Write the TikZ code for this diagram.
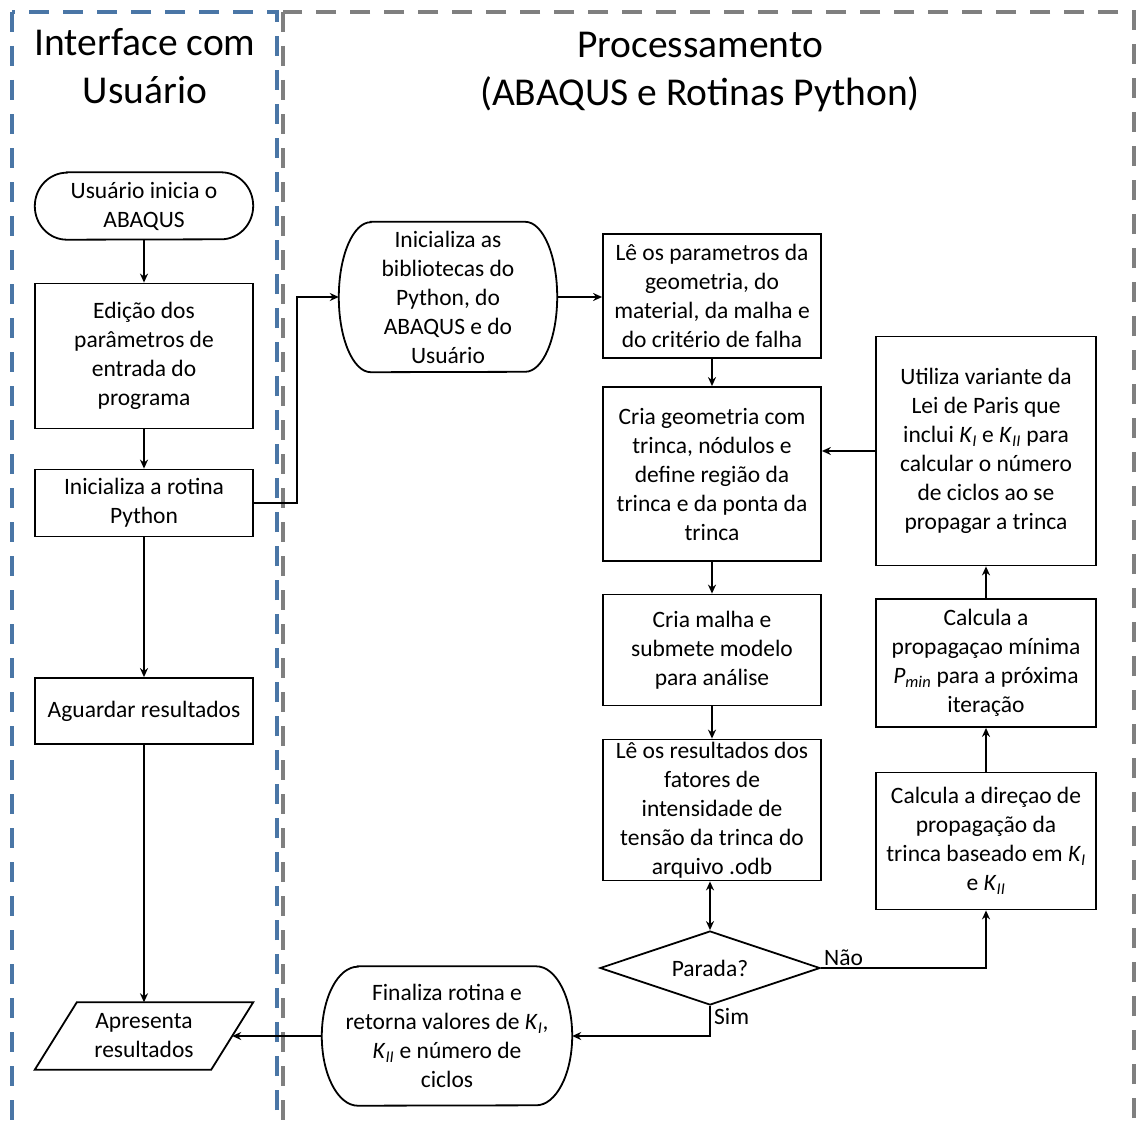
\documentclass[tikz,border=0pt]{standalone}
\usepackage{fontspec}
\setmainfont{Carlito}
\usetikzlibrary{arrows.meta,shapes.geometric,calc}
\definecolor{panelblue}{HTML}{4A76A6}
\definecolor{panelgray}{HTML}{7F7F7F}
\newcommand\KsubI{\textit{K}\textsubscript{\textit{I}}}
\newcommand\KsubII{\textit{K}\textsubscript{\textit{II}}}
\newcommand\Pmin{\textit{P}\textsubscript{\textit{min}}}
\newcommand\drawstadium[3]{% node, x radius, half height
  \draw[boxline] ([xshift=#2]#1.north west) -- ([xshift=-#2]#1.north east)
    arc[start angle=90,end angle=-90,x radius=#2,y radius=#3]
    -- ([xshift=#2]#1.south west)
    arc[start angle=270,end angle=90,x radius=#2,y radius=#3] -- cycle;}
\tikzset{
  boxline/.style={line width=1.8pt},
  txt/.style={font=\fontsize{23.5}{29}\selectfont, align=center, inner sep=0pt},
  procbox/.style={txt, draw, line width=1.8pt, minimum width=218pt},
  plainnode/.style={txt, minimum width=218pt},
  arr/.style={line width=1.6pt, -{Stealth[length=9pt,width=8pt]}},
  darr/.style={line width=1.6pt, {Stealth[length=9pt,width=8pt]}-{Stealth[length=9pt,width=8pt]}},
  title/.style={font=\fontsize{39.5}{48}\selectfont, align=center, inner sep=0pt},
  lbl/.style={font=\fontsize{23.5}{29}\selectfont, inner sep=0pt}
}
\begin{document}
\begin{tikzpicture}[x=1pt,y=-1pt]
\useasboundingbox (0,0) rectangle (1136,1124);
\fill[white] (0,0) rectangle (1136,1124);
% panels
\draw[panelgray, line width=4pt, dash pattern=on 20pt off 14pt] (283,12) rectangle (1134,1125.5);
\draw[panelblue, line width=4pt, dash pattern=on 20pt off 14pt] (12,12) rectangle (277,1125.5);
% titles
\node[title] (t1) at (145,66) {Interface com\\Usuário};
\node[title] (t2) at (700,72) {Processamento\\(ABAQUS e Rotinas Python)};
% left column
\node[plainnode, minimum height=67pt] (usu) at (144,206) {Usuário inicia o\\ABAQUS};
\drawstadium{usu}{32pt}{33.5pt}
\node[procbox, minimum height=145pt] (edi) at (144,356) {Edição dos\\parâmetros de\\entrada do\\programa};
\node[procbox, minimum height=67pt] (ini) at (144,503) {Inicializa a rotina\\Python};
\node[procbox, minimum height=66pt] (agu) at (144,711) {Aguardar resultados};
\node[plainnode, minimum height=67pt] (apr) at (144,1036) {Apresenta\\resultados};
\draw[boxline] (apr.south west) -- ([xshift=42pt]apr.north west) -- (apr.north east) -- ([xshift=-42pt]apr.south east) -- cycle;
\coordinate (aprin) at ($(apr.east)+(-21,0)$);
% middle
\node[plainnode, minimum height=150pt] (bib) at (448,297) {Inicializa as\\bibliotecas do\\Python, do\\ABAQUS e do\\Usuário};
\drawstadium{bib}{32pt}{75pt}
\node[plainnode, minimum width=250pt, minimum height=139pt] (fin) at (447,1036) {Finaliza rotina e\\retorna valores de \KsubI,\\\KsubII{} e número de\\ciclos};
\drawstadium{fin}{36pt}{69.5pt}
% center column
\node[procbox, minimum height=124pt] (lep) at (712,296) {Lê os parametros da\\geometria, do\\material, da malha e\\do critério de falha};
\node[procbox, minimum height=174pt] (cri) at (712,474) {Cria geometria com\\trinca, nódulos e\\define região da\\trinca e da ponta da\\trinca};
\node[procbox, minimum height=111pt] (mal) at (712,650) {Cria malha e\\submete modelo\\para análise};
\node[procbox, minimum height=141pt] (res) at (712,810) {Lê os resultados dos\\fatores de\\intensidade de\\tensão da trinca do\\arquivo .odb};
\node[txt, draw, shape=diamond, line width=1.8pt, minimum width=220pt, minimum height=74pt, aspect=3] (par) at (710,968) {Parada?};
% right column
\node[procbox, minimum width=220pt, minimum height=229pt] (uti) at (986,451) {Utiliza variante da\\Lei de Paris que\\inclui \KsubI{} e \KsubII{} para\\calcular o número\\de ciclos ao se\\propagar a trinca};
\node[procbox, minimum width=220pt, minimum height=128pt] (pmi) at (986,663) {Calcula a\\propagaçao mínima\\\Pmin{} para a próxima\\iteração};
\node[procbox, minimum width=220pt, minimum height=137pt] (dir) at (986,841) {Calcula a direçao de\\propagação da\\trinca baseado em \KsubI\\e \KsubII};
% connectors
\draw[arr] (usu.south) -- (edi.north);
\draw[arr] (edi.south) -- (ini.north);
\draw[arr] (ini.south) -- (agu.north);
\draw[arr] (agu.south) -- (apr.north);
\draw[arr] (ini.east) -- ++(43,0) |- (bib.west);
\draw[arr] (bib.east) -- (bib.east -| lep.west);
\draw[arr] (lep.south) -- (cri.north);
\draw[arr] (cri.south) -- (mal.north);
\draw[arr] (mal.south) -- (res.north);
\draw[darr] (par.north |- res.south) -- (par.north);
\draw[arr] (par.east) -| (dir.south);
\draw[arr] (dir.north) -- (pmi.south);
\draw[arr] (pmi.north) -- (uti.south);
\draw[arr] (uti.west) -- (uti.west -| cri.east);
\draw[arr] (par.south) |- (fin.east);
\draw[arr] (fin.west) -- (aprin);
% labels
\node[lbl, anchor=south west] (nao) at ($(par.east)+(3,-2)$) {Não};
\node[lbl, anchor=north west] (sim) at ($(par.south)+(4,2)$) {Sim};
\end{tikzpicture}
\end{document}
